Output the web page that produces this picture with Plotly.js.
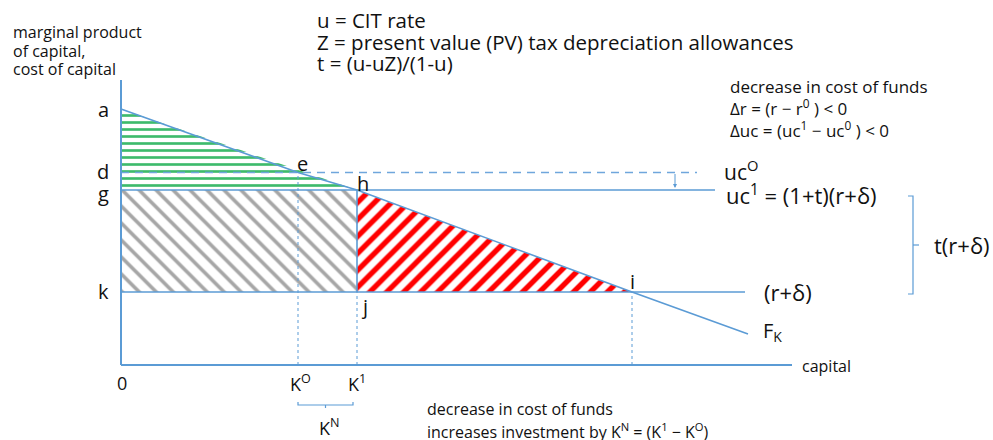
<!DOCTYPE html>
<html>
<head>
<meta charset="utf-8">
<script src="https://cdn.plot.ly/plotly-3.0.1.min.js"></script>
<style>html,body{margin:0;padding:0;background:#fff;}#chart{width:993px;height:440px;}</style>
</head>
<body>
<div id="chart"></div>
<script>
// ---- data (capital on x, marginal product / cost of capital on y) ----
const fkCapital = [0, 177, 236, 511, 627];      // points along F_K: a, e, h, i, end
const fkMPK     = [256, 192.5, 175, 73, 31];
const aVal = 256;          // intercept a
const ucO = 192.5;         // uc^O (old cost of capital)
const uc1 = 175;           // uc^1 = (1+t)(r+δ)
const rDelta = 73;         // (r+δ)
const K0 = 177, K1 = 236, Ki = 511;
const ucOEnd = 576, uc1End = 594, rDeltaEnd = 624;
const yAxisTop = 285, xAxisEnd = 671;
const arrowX = 554;
const bracketX = 792;      // right bracket for t(r+δ)
const knBracketY = -40;

const topNotes = ['u = CIT rate', 'Z = present value (PV) tax depreciation allowances', 't = (u-uZ)/(1-u)'];
const rightNotes = ['decrease in cost of funds', 'Δr = (r − r<sup>0</sup> ) < 0', 'Δuc = (uc<sup>1</sup> − uc<sup>0</sup> ) < 0'];
const bottomNotes = ['decrease in cost of funds', 'increases investment by K<sup>N</sup> = (K<sup>1</sup> − K<sup>O</sup>)'];
const yTitle = ['marginal product', 'of capital,', 'cost of capital'];

const BLUE = '#5b9bd5';
const FONT = 'Open Sans, Noto Sans, sans-serif';
const traces = [];

// green: triangle a-h-g
traces.push({x:[0, K1, 0, 0], y:[aVal, uc1, uc1, aVal], mode:'lines', fill:'toself',
  fillcolor:'white', line:{width:0, color:'rgba(0,0,0,0)'},
  fillpattern:{shape:'-', fgcolor:'#3dbb6c', bgcolor:'white', size:7, solidity:0.38}, hoverinfo:'skip'});
// gray rectangle g-h-j-k
traces.push({x:[0, K1, K1, 0, 0], y:[rDelta, rDelta, uc1, uc1, rDelta], mode:'lines', fill:'toself',
  fillcolor:'white', line:{width:0, color:'rgba(0,0,0,0)'},
  fillpattern:{shape:'\\', fgcolor:'#a6a6a6', bgcolor:'white', size:12, solidity:0.3}, hoverinfo:'skip'});
// red triangle h-j-i
traces.push({x:[K1, K1, Ki, K1], y:[uc1, rDelta, rDelta, uc1], mode:'lines', fill:'toself',
  fillcolor:'white', line:{width:0, color:'rgba(0,0,0,0)'},
  fillpattern:{shape:'/', fgcolor:'#ff0000', bgcolor:'white', size:12, solidity:0.45}, hoverinfo:'skip'});

function line(x, y, opts) {
  traces.push(Object.assign({x:x, y:y, mode:'lines', hoverinfo:'skip',
    line:Object.assign({color:BLUE, width:1.5}, opts || {})}));
}
// dotted verticals
line([K0, K0], [0, ucO], {width:1, dash:'dot'});
line([K1, K1], [0, rDelta], {width:1, dash:'dot'});
line([Ki, Ki], [0, rDelta], {width:1, dash:'dot'});
// cost lines
line([0, ucOEnd], [ucO, ucO], {width:1.6, dash:'8px,6px', color:'#6fa6dc'});
line([0, uc1End], [uc1, uc1], {width:1.6});
line([0, rDeltaEnd], [rDelta, rDelta], {width:1.6});
line([K1, K1], [rDelta, uc1], {width:1.6});
// F_K
line(fkCapital, fkMPK, {width:1.6});
// axes
line([0, 0], [0, yAxisTop], {width:2});
line([0, xAxisEnd], [0, 0], {width:2});
// right bracket
line([bracketX - 5, bracketX, bracketX, bracketX - 5], [uc1 - 6, uc1 - 6, rDelta - 2, rDelta - 2], {width:1.2});
line([bracketX, bracketX + 6], [(uc1 + rDelta) / 2 - 4, (uc1 + rDelta) / 2 - 4], {width:1.2});
// K^N bracket
line([K0, K0, K1 - 4, K1 - 4], [knBracketY + 3, knBracketY, knBracketY, knBracketY + 3], {width:1.2});
line([(K0 + K1 - 4) / 2, (K0 + K1 - 4) / 2], [knBracketY, knBracketY - 3], {width:1.2});

const ann = [];
function txt(text, x, y, size, o) {
  ann.push(Object.assign({text:text, x:x, y:y, xref:'x', yref:'y', showarrow:false,
    xanchor:'center', yanchor:'middle', font:{family:FONT, size:size, color:'#111'}}, o || {}));
}
// point labels
txt('a', 0, aVal, 20, {xshift:-18});
txt('d', 0, ucO, 20, {xshift:-18, yshift:1});
txt('g', 0, uc1, 20, {xshift:-18, yshift:-3});
txt('k', 0, rDelta, 20, {xshift:-18, yshift:1});
txt('e', K0, ucO, 20, {xshift:4, yshift:9});
txt('h', K1, uc1, 20, {xshift:6, yshift:7});
txt('j', K1, rDelta, 20, {xshift:7, yshift:-14});
txt('i', Ki, rDelta, 20, {yshift:11});
txt('0', 0, 0, 18, {xshift:1, yshift:-18});
txt('K<sup>O</sup>', K0, 0, 18, {xshift:2, yshift:-18});
txt('K<sup>1</sup>', K1, 0, 18, {xshift:0, yshift:-18});
txt('K<sup>N</sup>', (K0 + K1) / 2, knBracketY, 18, {xshift:2, yshift:-22});
// line labels
txt('uc<sup>O</sup>', ucOEnd, ucO, 21, {xanchor:'left', xshift:25, yshift:2});
txt('uc<sup>1</sup> = (1+t)(r+δ)', uc1End, uc1, 22, {xanchor:'left', xshift:9, yshift:-4});
txt('(r+δ)', rDeltaEnd, rDelta, 22, {xanchor:'left', xshift:17});
txt('F<sub>K</sub>', fkCapital[fkCapital.length - 1], fkMPK[fkMPK.length - 1], 20, {xanchor:'left', xshift:13, yshift:3});
txt('capital', xAxisEnd, 0, 16, {xanchor:'left', xshift:8, yshift:-1});
txt('t(r+δ)', bracketX, (uc1 + rDelta) / 2 - 4, 22, {xanchor:'left', xshift:19});
// notes
yTitle.forEach((t, i) => txt(t, -121, 333 - i * 18.5, 16, {xanchor:'left', xshift:11}));
topNotes.forEach((t, i) => txt(t, 194, 345 - i * 21.5, 20.5, {xanchor:'left'}));
rightNotes.forEach((t, i) => txt(t, 607, 279 - i * 21.5, 17, {xanchor:'left'}));
bottomNotes.forEach((t, i) => txt(t, 304, -44 - i * 21.5, 16, {xanchor:'left'}));
// arrow from uc^O down to uc^1
ann.push({x:arrowX, y:uc1 + 2, ax:arrowX, ay:ucO, xref:'x', yref:'y', axref:'x', ayref:'y',
  showarrow:true, arrowhead:2, arrowsize:0.8, arrowwidth:1, arrowcolor:BLUE, text:''});

const layout = {
  width:993, height:440, margin:{l:0, r:0, t:0, b:0},
  paper_bgcolor:'white', plot_bgcolor:'white', showlegend:false,
  xaxis:{range:[-121, 872], visible:false, fixedrange:true},
  yaxis:{range:[-75, 365], visible:false, fixedrange:true},
  annotations:ann
};
Plotly.newPlot('chart', traces, layout, {displayModeBar:false, staticPlot:true});
</script>
</body>
</html>
